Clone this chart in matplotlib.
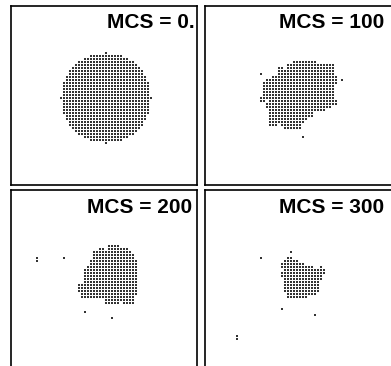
import numpy as np
import matplotlib.pyplot as plt

plt.rcParams['font.family'] = ['Liberation Sans', 'DejaVu Sans']

W, H = 391, 366

titles = ['MCS = 0.', 'MCS = 100', 'MCS = 200', 'MCS = 300']

# MCS = 0: round droplet, half-width of each lattice row (top to bottom)
disk_center = (31, 30)
disk_halfwidth = [0, 5, 7, 9, 10, 11, 12, 12, 13, 13, 14, 14, 14, 14, 14, 15,
                  14, 14, 14, 14, 14, 13, 13, 12, 12, 11, 10, 9, 7, 5, 0]

# other snapshots: runs of occupied sites (row, first col, last col)
runs_100 = [(18, 29, 36), (19, 27, 42), (20, 24, 25), (20, 27, 42),
            (21, 24, 42), (22, 24, 42), (23, 22, 43), (24, 20, 43),
            (25, 19, 43), (26, 19, 42), (27, 19, 42), (28, 19, 42),
            (29, 19, 42), (30, 18, 42), (31, 18, 19), (31, 21, 43),
            (32, 20, 43), (33, 20, 41), (34, 21, 39), (35, 21, 35),
            (36, 21, 35), (37, 21, 33), (38, 21, 32), (38, 26, 30),
            (39, 21, 23), (39, 25, 31), (40, 26, 31)]
dots_100 = [(22, 18), (24, 45), (43, 32)]

runs_200 = [(18, 32, 35), (19, 29, 30), (19, 32, 38), (20, 27, 39),
            (21, 27, 40), (22, 27, 40), (23, 26, 41), (24, 26, 41),
            (25, 25, 41), (26, 24, 41), (27, 24, 41), (28, 24, 41),
            (29, 24, 41), (30, 24, 41), (31, 22, 41), (32, 22, 41),
            (33, 22, 41), (34, 23, 41), (35, 23, 40), (36, 31, 40),
            (37, 31, 35), (37, 37, 40)]
dots_200 = [(22, 8), (23, 8), (22, 17), (40, 24), (42, 33)]

runs_300 = [(22, 27, 28), (23, 26, 30), (24, 25, 32), (25, 25, 35),
            (25, 38, 38), (26, 26, 39), (27, 25, 39), (28, 25, 38),
            (29, 26, 38), (30, 26, 37), (31, 26, 37), (32, 26, 37),
            (33, 26, 37), (34, 27, 36), (35, 27, 33)]
dots_300 = [(20, 28), (22, 18), (39, 25), (41, 36), (48, 10), (49, 10)]

# panel boxes in pixels: left, top, width, height
boxes = [(11, 6, 186, 179), (205, 6, 188, 179),
         (11, 190, 186, 179), (205, 190, 188, 179)]
# title anchors in pixels: right edge, baseline
title_pos = [(195, 28), (384, 28), (192, 213), (384, 213)]


def disk_sites(center, halfwidth):
    cx, cy = center
    top = cy - len(halfwidth) // 2
    xs, ys = [], []
    for i, hw in enumerate(halfwidth):
        for c in range(cx - hw, cx + hw + 1):
            xs.append(c)
            ys.append(top + i)
    return xs, ys


def run_sites(runs, dots):
    xs, ys = [], []
    for r, c0, c1 in runs:
        for c in range(c0, c1 + 1):
            xs.append(c)
            ys.append(r)
    for r, c in dots:
        xs.append(c)
        ys.append(r)
    return xs, ys


sites = [disk_sites(disk_center, disk_halfwidth),
         run_sites(runs_100, dots_100),
         run_sites(runs_200, dots_200),
         run_sites(runs_300, dots_300)]

fig = plt.figure(figsize=(W / 100, H / 100), dpi=100)

for k in range(4):
    l, t, w, h = boxes[k]
    ax = fig.add_axes([l / W, 1 - (t + h) / H, w / W, h / H])
    xs, ys = sites[k]
    ax.scatter(np.array(xs) + 0.5, np.array(ys) + 0.5, s=1.0, marker='s',
               color='#333333', linewidths=0)
    ax.set_xlim(0, w / 3)
    ax.set_ylim(h / 3, 0)
    ax.set_xticks([])
    ax.set_yticks([])
    for sp in ax.spines.values():
        sp.set_linewidth(1.2)
    tx, ty = title_pos[k]
    fig.text(tx / W, 1 - ty / H, titles[k], ha='right', va='baseline',
             fontsize=15, fontweight='bold')

fig.savefig('out.png', dpi=100)
